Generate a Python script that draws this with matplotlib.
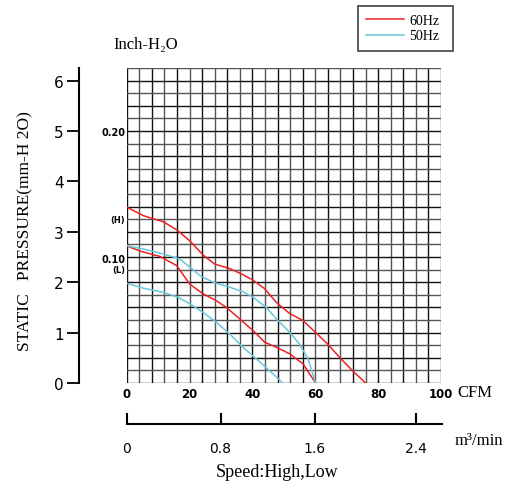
import matplotlib.pyplot as plt
import numpy as np

# P-Q curves, x in CFM, y in mm-H2O
hi60_x = [0, 5.3, 11.6, 15.9, 20.1, 24.3, 28, 32.8, 37, 40.2, 43.9, 47.6, 51.8, 56.1, 60.3, 64, 67.7, 71.9, 76]
hi60_y = [3.49, 3.32, 3.20, 3.04, 2.82, 2.54, 2.36, 2.27, 2.15, 2.04, 1.87, 1.60, 1.38, 1.24, 0.99, 0.77, 0.51, 0.24, 0.0]
lo60_x = [0, 4.2, 10.6, 15.9, 20.1, 24.3, 28.6, 31.7, 36, 40.2, 43.9, 47.6, 51.8, 56.1, 60.1]
lo60_y = [2.72, 2.62, 2.51, 2.33, 1.96, 1.77, 1.63, 1.50, 1.27, 1.04, 0.81, 0.71, 0.58, 0.38, 0.0]
hi50_x = [0, 5.3, 11.6, 16.9, 20.1, 23.3, 27.5, 32.8, 37, 40.2, 44.4, 48.1, 51.8, 55, 57.7, 60.1]
hi50_y = [2.72, 2.66, 2.56, 2.46, 2.30, 2.13, 2.00, 1.90, 1.81, 1.70, 1.50, 1.24, 1.01, 0.77, 0.48, 0.0]
lo50_x = [0, 5.3, 11.6, 16.4, 20.1, 24.3, 28.6, 32.8, 37, 41.2, 45.5, 49.7]
lo50_y = [1.98, 1.88, 1.80, 1.70, 1.57, 1.40, 1.20, 0.97, 0.71, 0.48, 0.24, 0.0]

cfm_ticks = [0, 20, 40, 60, 80, 100]
mm_ticks = [0, 1, 2, 3, 4, 5, 6]
m3_labels = ["0", "0.8", "1.6", "2.4"]
m3_pos = [0, 29.8, 59.7, 91.7]  # where the m3/min ticks sit on the CFM scale
inch_labels = ["0.20", "(H)", "0.10", "(L)"]
inch_pos = [4.98, 3.24, 2.46, 2.25]

red = "#ee2222"
cyan = "#66c8dc"
serif = ["Liberation Serif", "DejaVu Serif"]

W, H = 514, 489
fig = plt.figure(figsize=(W / 100, H / 100), dpi=100)

ax = fig.add_axes([126.7 / W, 1 - 384 / H, 314.3 / W, 315 / H])
ax.set_xlim(0, 100)
ax.set_ylim(0, 6.25)

for i, x in enumerate(np.arange(0, 101, 4)):
    ax.axvline(x, color="#111111" if i % 2 == 0 else "#555555", lw=1.0, zorder=1)
for i, y in enumerate(np.arange(0, 6.26, 0.25)):
    ax.axhline(y, color="#111111" if i % 2 == 0 else "#555555", lw=1.0, zorder=1)

ax.plot(hi60_x, hi60_y, color=red, lw=1.1, zorder=3, label="60Hz")
ax.plot(lo60_x, lo60_y, color=red, lw=1.1, zorder=3)
ax.plot(hi50_x, hi50_y, color=cyan, lw=1.1, zorder=3, label="50Hz")
ax.plot(lo50_x, lo50_y, color=cyan, lw=1.1, zorder=3)

for s in ["top", "right", "bottom"]:
    ax.spines[s].set_visible(False)
ax.spines["left"].set_position(("outward", 34.5))
ax.spines["left"].set_linewidth(1.5)
ax.spines["left"].set_bounds(0, 6.25)

ax.set_yticks(mm_ticks)
ax.tick_params(axis="y", direction="out", length=9, width=1.3, pad=2, labelsize=11)
ax.set_xticks(cfm_ticks)
ax.set_xticklabels([str(t) for t in cfm_ticks], fontweight="bold", fontsize=8.5)
ax.tick_params(axis="x", length=0, pad=3)

for lab, y in zip(inch_labels, inch_pos):
    ax.text(-0.5, y, lab, ha="right", va="center", fontsize=7 if lab.startswith("0") else 6,
            fontweight="bold")

fig.text(457 / W, 1 - 393 / H, "CFM", ha="left", va="center", family=serif, fontsize=12)
fig.text(113 / W, 1 - 45 / H, "Inch-H\u2082O", ha="left", va="center", family=serif, fontsize=12)
fig.text(25 / W, 1 - 231 / H, "STATIC   PRESSURE(mm-H 2O)", rotation=90, ha="center",
         va="center", family=serif, fontsize=12.5)

# m3/min scale below the chart
ax2 = fig.add_axes([126.7 / W, 1 - 425 / H, 315 / W, 20 / H])
ax2.set_xlim(0, 100)
ax2.patch.set_visible(False)
for s in ["top", "right", "left"]:
    ax2.spines[s].set_visible(False)
ax2.spines["bottom"].set_linewidth(1.5)
ax2.set_yticks([])
ax2.set_xticks(m3_pos)
ax2.set_xticklabels(m3_labels, fontsize=10)
ax2.tick_params(axis="x", direction="in", length=8, width=1.5, pad=12)

fig.text(455 / W, 1 - 441 / H, "m\u00b3/min", ha="left", va="center", family=serif, fontsize=12)
fig.text(277 / W, 1 - 473 / H, "Speed:High,Low", ha="center", va="center", family=serif, fontsize=13)

leg = fig.legend(loc="upper left", bbox_to_anchor=(358 / W, 1 - 52 / H, 95 / W, 45 / H), mode="expand",
                 prop={"family": serif, "size": 10}, frameon=True, fancybox=False,
                 handlelength=2.7, borderpad=0.6, labelspacing=0.15, handletextpad=0.4, borderaxespad=0)
leg.get_frame().set_edgecolor("#222222")
leg.get_frame().set_linewidth(1.3)

fig.savefig("out.png", dpi=100)
